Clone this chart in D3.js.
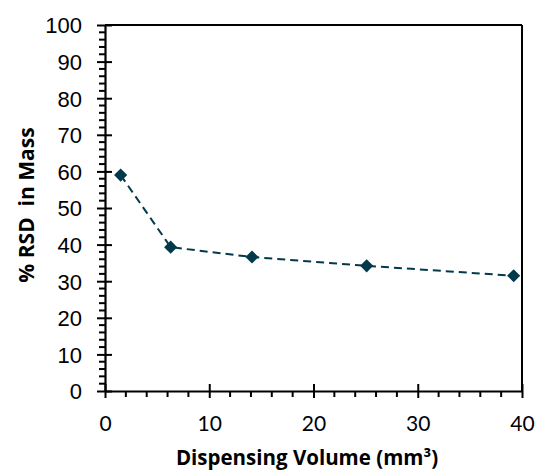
<!DOCTYPE html>
<html>
<head>
<meta charset="utf-8">
<script src="https://cdn.jsdelivr.net/npm/d3@7"></script>
<style>
  html, body { margin: 0; padding: 0; background: #fff; }
  svg { display: block; }
</style>
</head>
<body>
<svg id="chart" width="537" height="470"></svg>
<script>
// Dispensing volume (mm³) vs. relative standard deviation of mass (%)
const volumes = [1.5, 6.3, 14.1, 25.1, 39.2];
const rsdMass = [59.0, 39.3, 36.6, 34.2, 31.5];
const xTicks = [0, 10, 20, 30, 40];
const yTicks = [0, 10, 20, 30, 40, 50, 60, 70, 80, 90, 100];

const svg = d3.select("#chart");
const plotLeft = 105, plotRight = 522, plotTop = 25, plotBottom = 391;

const x = d3.scaleLinear().domain([0, 40]).range([plotLeft, plotRight]);
const y = d3.scaleLinear().domain([0, 100]).range([plotBottom, plotTop]);

const ink = "#000";
const markColor = "#023a4b";

// minor ticks every 2 units
const xMinor = d3.range(0, 40.01, 2).filter(v => v % 10 !== 0);
const yMinor = d3.range(0, 100.01, 2).filter(v => v % 10 !== 0);

// plot frame (top and right)
svg.append("line").attr("x1", plotLeft).attr("x2", plotRight).attr("y1", plotTop).attr("y2", plotTop)
  .attr("stroke", ink).attr("stroke-width", 2);
svg.append("line").attr("x1", plotRight).attr("x2", plotRight).attr("y1", plotTop).attr("y2", plotBottom)
  .attr("stroke", ink).attr("stroke-width", 2);

// y axis: major ticks cross the axis line, minor ticks outside
const yAxis = svg.append("g").attr("transform", `translate(${plotLeft},0)`)
  .call(d3.axisLeft(y).tickValues(yTicks).tickSize(0).tickPadding(0).tickFormat(d3.format("d")));
yAxis.select(".domain").attr("stroke", ink).attr("stroke-width", 2.2);
yAxis.selectAll(".tick text")
  .attr("x", -23).attr("dy", "0.36em")
  .style("font-family", "'Liberation Sans', Arial, sans-serif")
  .style("font-size", "22px").attr("fill", ink);
yAxis.selectAll(".tick").append("line")
  .attr("x1", -8).attr("x2", 7).attr("stroke", ink).attr("stroke-width", 2);
yAxis.selectAll(".minor").data(yMinor).enter().append("line")
  .attr("class", "minor")
  .attr("x1", -6).attr("x2", 0)
  .attr("y1", d => y(d)).attr("y2", d => y(d))
  .attr("stroke", ink).attr("stroke-width", 2);

// x axis
const xAxis = svg.append("g").attr("transform", `translate(0,${plotBottom})`)
  .call(d3.axisBottom(x).tickValues(xTicks).tickSize(0).tickPadding(0).tickFormat(d3.format("d")));
xAxis.select(".domain").attr("stroke", ink).attr("stroke-width", 2.2);
xAxis.selectAll(".tick text")
  .attr("y", 40).attr("dy", 0)
  .style("font-family", "Lato, 'Open Sans', sans-serif")
  .style("font-size", "21px").attr("fill", ink);
xAxis.selectAll(".tick").append("line")
  .attr("y1", -7).attr("y2", 7).attr("stroke", ink).attr("stroke-width", 2);
xAxis.selectAll(".minor").data(xMinor).enter().append("line")
  .attr("class", "minor")
  .attr("y1", 0).attr("y2", 6)
  .attr("x1", d => x(d)).attr("x2", d => x(d))
  .attr("stroke", ink).attr("stroke-width", 2);

// axis titles
svg.append("text")
  .attr("x", 307).attr("y", 465)
  .attr("text-anchor", "middle")
  .style("font-family", "'Open Sans', Lato, sans-serif")
  .style("font-weight", "bold").style("font-size", "20.5px")
  .attr("fill", ink)
  .text("Dispensing Volume (mm³)");

svg.append("text")
  .attr("transform", "translate(34,205) rotate(-90)")
  .attr("text-anchor", "middle")
  .style("font-family", "'Open Sans', Lato, sans-serif")
  .style("font-weight", "bold").style("font-size", "21px")
  .style("white-space", "pre")
  .attr("xml:space", "preserve")
  .attr("fill", ink)
  .text("% RSD  in Mass");

// data series: dashed line with diamond markers
const pts = volumes.map((v, i) => [v, rsdMass[i]]);
svg.append("path")
  .datum(pts)
  .attr("fill", "none")
  .attr("stroke", markColor)
  .attr("stroke-width", 2)
  .attr("stroke-dasharray", "8,5")
  .attr("d", d3.line().x(d => x(d[0])).y(d => y(d[1])));

svg.selectAll(".marker").data(pts).enter().append("path")
  .attr("class", "marker")
  .attr("transform", d => `translate(${x(d[0])},${y(d[1])})`)
  .attr("d", d3.symbol().type(d3.symbolDiamond2).size(110))
  .attr("fill", markColor);
</script>
</body>
</html>
